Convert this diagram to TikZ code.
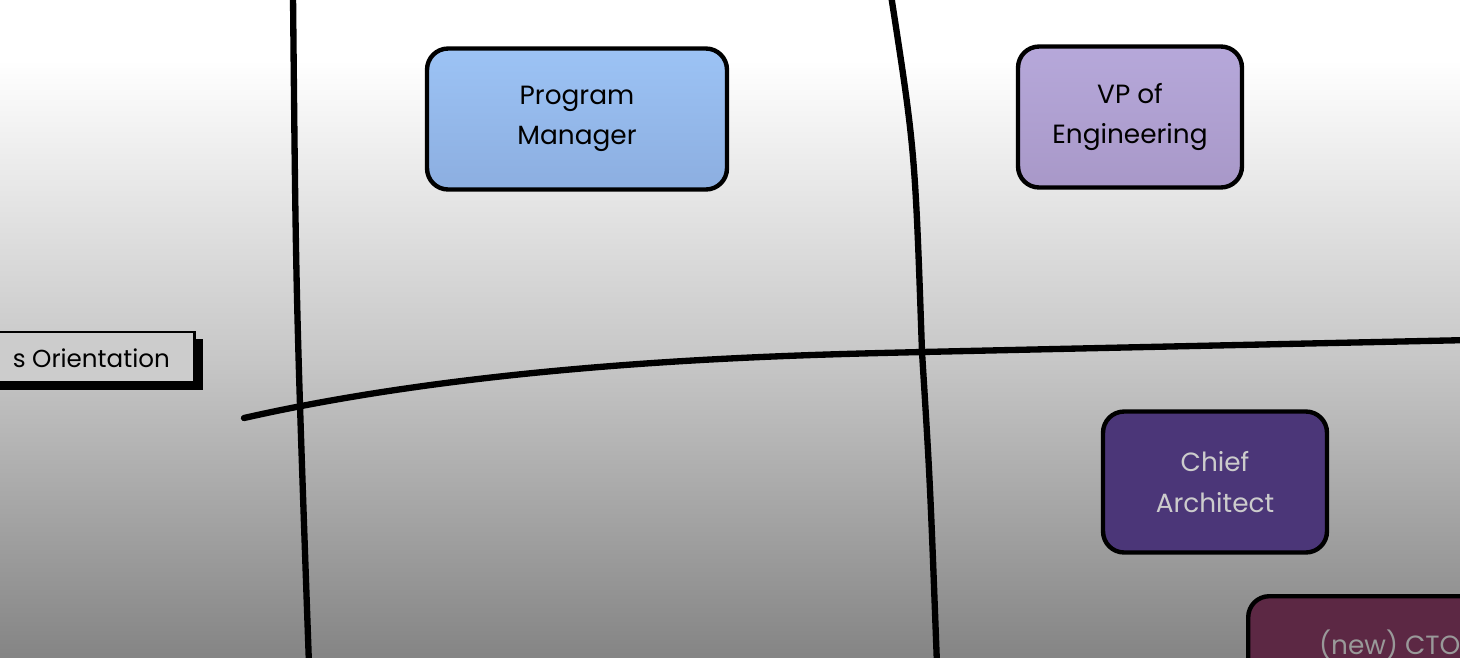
\documentclass[tikz,border=0pt]{standalone}
\usepackage{fontspec}
\setmainfont{Poppins}
\usetikzlibrary{positioning}
\definecolor{pmblue}{HTML}{9CC3F5}
\definecolor{pmblue2}{HTML}{8CAEE0}
\definecolor{vplilac}{HTML}{B6A8DA}
\definecolor{vplilac2}{HTML}{A898C8}
\definecolor{chiefpurple}{HTML}{4B3678}
\definecolor{ctowine}{HTML}{5C2844}
\tikzset{
role/.style={draw=black, line width=2.5pt, rounded corners=12pt, minimum width=4.48cm, minimum height=2.82cm, align=center, font=\fontsize{15}{23}\selectfont},
axis/.style={line width=3.6pt, line cap=round},
}
\begin{document}
\begin{tikzpicture}[x=0.02cm, y=-0.02cm]
    \useasboundingbox (0,0) rectangle (1460,657);
    \clip (0,0) rectangle (1460,657);
    % background
    \shade[top color=white, bottom color=black!48, middle color=black!22] (0,60) rectangle (1460,657);
    % quadrant lines
    \coordinate (v1a) at (293,-5);
    \coordinate (v1b) at (309,665);
    \coordinate (v2a) at (891,-5);
    \coordinate (v2m) at (922,352);
    \coordinate (v2b) at (937,665);
    \coordinate (h1a) at (244,418);
    \coordinate (h1b) at (1470,340);
    \draw[axis] (v1a) .. controls (296,300) .. (v1b);
    \draw[axis] (v2a) .. controls (915,150) .. (v2m) .. controls (930,480) .. (v2b);
    \draw[axis] (h1a) .. controls (500,360) and (800,355) .. (v2m) .. controls (1100,348) .. (h1b);
    % left label
    \fill[black] (-20,339) rectangle (203,390);
    \node[draw=black, fill=black!20!white, line width=1.5pt, minimum height=1.0cm, minimum width=4.4cm, anchor=east,
      font=\fontsize{14}{18}\selectfont, text depth=0pt] (orient) at (196,357) {};
    \node[anchor=east, font=\fontsize{14}{18}\selectfont] (orienttext) at (176,358) {s Orientation};
    % roles
    \node[role, top color=pmblue, bottom color=pmblue2, minimum width=6.0cm] (pm) at (577,119) {Program\\Manager};
    \node[role, top color=vplilac, bottom color=vplilac2] (vp) at (1130,117) {VP of\\Engineering};
    \node[role, fill=chiefpurple, text=black!20!white] (chief) at (1215,482) {Chief\\Architect};
    \node[role, fill=ctowine, minimum width=5.0cm, anchor=north west] (cto) at (1246,594) {};
    \node[anchor=west, text=black!40!white, font=\fontsize{15}{20}\selectfont] (ctotext) at (1313,645) {(new) CTO};
\end{tikzpicture}
\end{document}
